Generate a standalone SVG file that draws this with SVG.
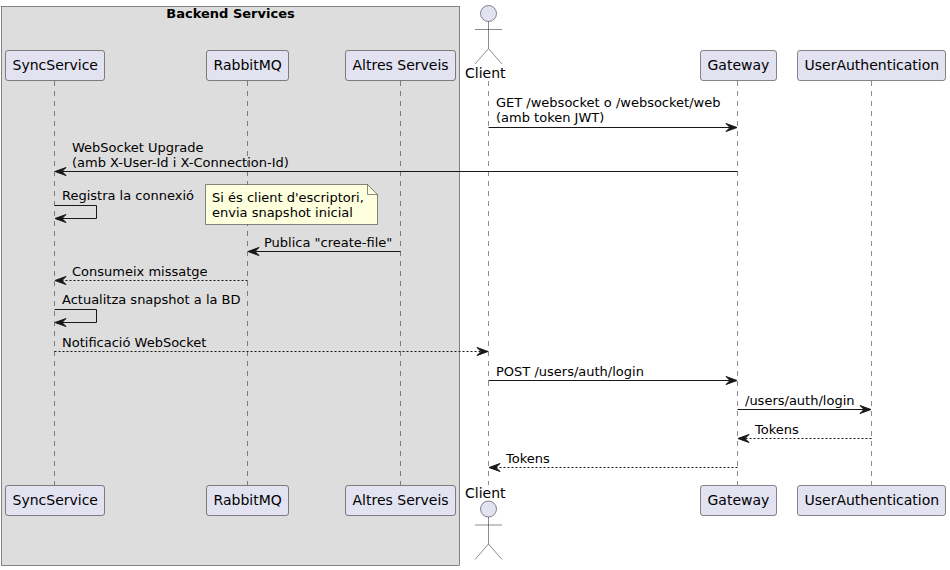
<svg xmlns="http://www.w3.org/2000/svg" width="950" height="570" viewBox="0 0 950 570">
<style>
text{font-family:"DejaVu Sans",sans-serif;font-size:13px;fill:#000}
.p{fill:#E2E2F0;stroke:#181818;stroke-width:.5}
.pt{font-size:14px}
.life{stroke:#181818;stroke-width:.5;stroke-dasharray:5 5;fill:none}
.m{stroke:#181818;stroke-width:1;fill:none}
.d{stroke-dasharray:2 2}
.ah{fill:#181818;stroke:#181818;stroke-width:1}
.act{fill:#E2E2F0;stroke:#181818;stroke-width:.5}
.actl{fill:none;stroke:#181818;stroke-width:.5}
</style>
<defs>
<polygon id="al" class="ah" points="0,0 11,-4 7,0 11,4"/>
<polygon id="ar" class="ah" points="0,0 -11,-4 -7,0 -11,4"/>
<g id="stick"><circle class="act" cx="0" cy="0" r="8"/><path class="actl" d="M0 8V35M-13.500 16H13.500M0 35L-13.500 50.500M0 35L13.500 50.500"/></g>
</defs>
<g id="box-backend">
<rect x="1.500" y="6.500" width="458" height="559" fill="#DDDDDD" stroke="#181818" stroke-width=".5"/>
<text x="230.500" y="18" text-anchor="middle" style="font-weight:bold">Backend Services</text>
</g>
<g id="lifelines">
<path class="life" d="M54.500 81V485M247.500 81V485M400.500 81V485M488.500 81V485M737.500 81V485M871.500 81V485"/>
</g>
<g id="SyncService">
<rect class="p" x="5.500" y="50.500" width="99" height="30" rx="2.500"/><text class="pt" x="12.500" y="70">SyncService</text>
<rect class="p" x="5.500" y="485.500" width="99" height="30" rx="2.500"/><text class="pt" x="12.500" y="505">SyncService</text>
</g>
<g id="RabbitMQ">
<rect class="p" x="206.500" y="50.500" width="82" height="30" rx="2.500"/><text class="pt" x="213.500" y="70">RabbitMQ</text>
<rect class="p" x="206.500" y="485.500" width="82" height="30" rx="2.500"/><text class="pt" x="213.500" y="505">RabbitMQ</text>
</g>
<g id="AltresServeis">
<rect class="p" x="345.500" y="50.500" width="110" height="30" rx="2.500"/><text class="pt" x="352.500" y="70">Altres Serveis</text>
<rect class="p" x="345.500" y="485.500" width="110" height="30" rx="2.500"/><text class="pt" x="352.500" y="505">Altres Serveis</text>
</g>
<g id="Client">
<use href="#stick" x="488.500" y="13.500"/><text class="pt" x="465" y="78">Client</text>
<text class="pt" x="465" y="498">Client</text><use href="#stick" x="488.500" y="509"/>
</g>
<g id="Gateway">
<rect class="p" x="700.500" y="50.500" width="76" height="30" rx="2.500"/><text class="pt" x="707.500" y="70">Gateway</text>
<rect class="p" x="700.500" y="485.500" width="76" height="30" rx="2.500"/><text class="pt" x="707.500" y="505">Gateway</text>
</g>
<g id="UserAuthentication">
<rect class="p" x="797.500" y="50.500" width="148" height="30" rx="2.500"/><text class="pt" x="804.500" y="70">UserAuthentication</text>
<rect class="p" x="797.500" y="485.500" width="148" height="30" rx="2.500"/><text class="pt" x="804.500" y="505">UserAuthentication</text>
</g>
<g id="connectors">
<path class="m" d="M488.500 127.500H737"/><use href="#ar" x="737" y="127.500"/>
<path class="m" d="M737.500 171.500H55"/><use href="#al" x="55" y="171.500"/>
<path class="m" d="M54.500 205.500H96.500V218.500H55"/><use href="#al" x="55" y="218.500"/>
<path class="m" d="M400.500 251.500H248"/><use href="#al" x="248" y="251.500"/>
<path class="m d" d="M247.500 280.500H55"/><use href="#al" x="55" y="280.500"/>
<path class="m" d="M54.500 309.500H96.500V322.500H55"/><use href="#al" x="55" y="322.500"/>
<path class="m d" d="M54.500 351.500H488"/><use href="#ar" x="488" y="351.500"/>
<path class="m" d="M488.500 380.500H737"/><use href="#ar" x="737" y="380.500"/>
<path class="m" d="M737.500 409.500H871"/><use href="#ar" x="871" y="409.500"/>
<path class="m d" d="M871.500 438.500H738"/><use href="#al" x="738" y="438.500"/>
<path class="m d" d="M737.500 467.500H489"/><use href="#al" x="489" y="467.500"/>
</g>
<g id="labels">
<text x="496" y="107">GET /websocket o /websocket/web</text>
<text x="496" y="122">(amb token JWT)</text>
<text x="72" y="152">WebSocket Upgrade</text>
<text x="72" y="167">(amb X-User-Id i X-Connection-Id)</text>
<text x="62" y="200">Registra la connexió</text>
<text x="264" y="247">Publica "create-file"</text>
<text x="72" y="276">Consumeix missatge</text>
<text x="62" y="304">Actualitza snapshot a la BD</text>
<text x="62" y="347">Notificació WebSocket</text>
<text x="496" y="376">POST /users/auth/login</text>
<text x="745" y="405">/users/auth/login</text>
<text x="755" y="434">Tokens</text>
<text x="506" y="463">Tokens</text>
</g>
<g id="note">
<path d="M205.500 184.500H367.500L377.500 194.500V224.500H205.500Z" fill="#FEFFDD" stroke="#181818" stroke-width=".5"/>
<path d="M367.500 184.500V194.500H377.500" fill="none" stroke="#181818" stroke-width=".5"/>
<text x="212" y="202">Si és client d'escriptori,</text>
<text x="212" y="217">envia snapshot inicial</text>
</g>
</svg>
